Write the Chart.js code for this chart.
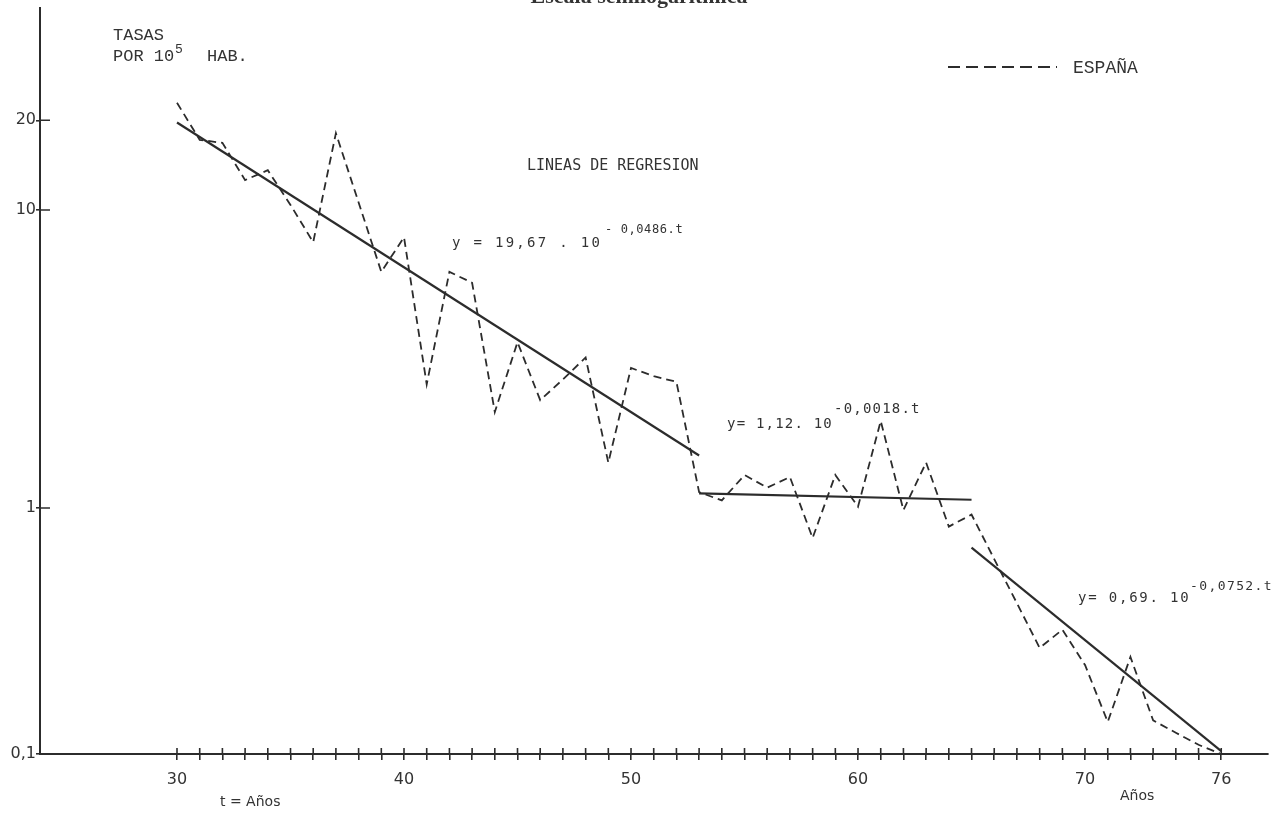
<!DOCTYPE html>
<html lang="es">
<head>
<meta charset="utf-8">
<title>Escala semilogarítmica</title>
<script src="https://cdn.jsdelivr.net/npm/chart.js@4.4.1/dist/chart.umd.min.js"></script>
<style>
  html, body { margin: 0; padding: 0; background: #ffffff; }
  #wrap { position: relative; width: 1278px; height: 813px; }
  canvas { display: block; }
</style>
</head>
<body>
<div id="wrap"><canvas id="c" width="1278" height="813"></canvas></div>
<script>
// Años (19xx) and tasas por 10^5 habitantes, España
const years = [30, 31, 32, 33, 34, 35, 36, 37, 38, 39,
               40, 41, 42, 43, 44, 45, 46, 47, 48, 49,
               50, 51, 52, 53, 54, 55, 56, 57, 58, 59,
               60, 61, 62, 63, 64, 65, 66, 67, 68, 69,
               70, 71, 72, 73, 74, 75, 76];
const espana = [22.9, 17.2, 16.8, 12.6, 13.6, 10.4, 7.8, 18.1, 10.6, 6.2,
                8.1, 2.6, 6.2, 5.7, 2.1, 3.6, 2.3, 2.7, 3.2, 1.42,
                2.95, 2.77, 2.65, 1.13, 1.06, 1.29, 1.17, 1.27, 0.755, 1.29,
                1.01, 1.96, 0.98, 1.42, 0.84, 0.94, 0.62, 0.41, 0.27, 0.32,
                0.23, 0.135, 0.248, 0.137, 0.122, 0.109, 0.1];

// Líneas de regresión y = a · 10^(-b·t), t counted from each line's first year
const regA = [19.67, 1.12, 0.69];
const regB = [0.0486, 0.0018, 0.0752];
const regFrom = [30, 53, 65];
const regTo = [53, 65, 76];

// Axis ticks
const xLabelYears = [30, 40, 50, 60, 70, 76];
const yTickValues = [0.1, 1, 10, 20];
const yTickLabels = ['0,1', '1', '10', '20'];

const ink = '#2c2c2c';

// Log axis whose lower decade is drawn shorter than the upper ones
class SplitLogScale extends Chart.LogarithmicScale {
  static id = 'splitLog';
  static defaults = { breakValue: 1, breakFraction: 0.33 };
  _splitDecimal(value) {
    const lo = Math.log10(this.min), hi = Math.log10(this.max);
    const b = Math.log10(this.options.breakValue), f = this.options.breakFraction;
    const v = Math.log10(value);
    return v <= b ? f * (v - lo) / (b - lo) : f + (1 - f) * (v - b) / (hi - b);
  }
  getPixelForValue(value) {
    if (value === undefined || value === 0) value = this.min;
    if (value === null || isNaN(value)) return NaN;
    return this.getPixelForDecimal(this._splitDecimal(value));
  }
  getValueForPixel(pixel) {
    const d = this.getDecimalForPixel(pixel);
    const lo = Math.log10(this.min), hi = Math.log10(this.max);
    const b = Math.log10(this.options.breakValue), f = this.options.breakFraction;
    const v = d <= f ? lo + (d / f) * (b - lo) : b + ((d - f) / (1 - f)) * (hi - b);
    return Math.pow(10, v);
  }
}
Chart.register(SplitLogScale);

const regressionSets = regFrom.map((from, k) => ({
  label: 'regresión ' + (k + 1),
  data: [from, regTo[k]].map(t => ({ x: t, y: regA[k] * Math.pow(10, -regB[k] * (t - from)) })),
  borderColor: ink,
  borderWidth: 2.2,
  pointRadius: 0,
  tension: 0
}));

function drawText(ctx, str, x, y, font, spacing) {
  ctx.font = font;
  if ('letterSpacing' in ctx) ctx.letterSpacing = (spacing || 0) + 'px';
  ctx.fillText(str, x, y);
  if ('letterSpacing' in ctx) ctx.letterSpacing = '0px';
}

const decor = {
  id: 'decor',
  afterDraw(chart) {
    const ctx = chart.ctx;
    const xs = chart.scales.x, ys = chart.scales.y;
    ctx.save();
    // tick marks crossing the axes
    ctx.strokeStyle = ink;
    ctx.lineWidth = 1.6;
    ctx.beginPath();
    xs.ticks.forEach(t => {
      const px = xs.getPixelForValue(t.value);
      ctx.moveTo(px, xs.top);
      ctx.lineTo(px, xs.top - 6);
    });
    ys.ticks.forEach(t => {
      if (t.value === yTickValues[0]) return;
      const py = ys.getPixelForValue(t.value);
      ctx.moveTo(ys.right, py);
      ctx.lineTo(ys.right + 10, py);
    });
    ctx.stroke();

    ctx.fillStyle = '#333333';
    ctx.textBaseline = 'alphabetic';

    // title
    ctx.textAlign = 'center';
    drawText(ctx, 'Escala semilogarítmica', 639, 3, 'bold 22px "Liberation Serif"');
    ctx.textAlign = 'left';

    // y-axis caption
    drawText(ctx, 'TASAS', 113, 40, '17px "Liberation Mono"');
    drawText(ctx, 'POR 10', 113, 61, '17px "Liberation Mono"');
    drawText(ctx, '5', 175, 53, '13px "Liberation Mono"');
    drawText(ctx, 'HAB.', 207, 61, '17px "Liberation Mono"');

    // legend
    const ds = chart.data.datasets[0];
    ctx.strokeStyle = ds.borderColor;
    ctx.lineWidth = 2;
    ctx.setLineDash([12, 6]);
    ctx.beginPath();
    ctx.moveTo(948, 67);
    ctx.lineTo(1057, 67);
    ctx.stroke();
    ctx.setLineDash([]);
    drawText(ctx, ds.label, 1073, 73, '18px "Liberation Mono"');

    // regression notes
    const dm = '"DejaVu Sans Mono"';
    drawText(ctx, 'LINEAS DE REGRESION', 527, 170, '15px ' + dm);
    drawText(ctx, 'y = 19,67 . 10', 452, 247, '14px ' + dm, 2.3);
    drawText(ctx, '- 0,0486.t', 605, 233, '12px ' + dm, 0.6);
    drawText(ctx, 'y= 1,12. 10', 727, 428, '14px ' + dm, 1.2);
    drawText(ctx, '-0,0018.t', 834, 413, '14px ' + dm, 1.2);
    drawText(ctx, 'y= 0,69. 10', 1078, 602, '14px ' + dm, 1.8);
    drawText(ctx, '-0,0752.t', 1190, 590, '13px ' + dm, 1.4);

    // x-axis captions
    drawText(ctx, 't = Años', 220, 806, '14px "DejaVu Sans"');
    drawText(ctx, 'Años', 1120, 800, '14px "DejaVu Sans"');
    ctx.restore();
  }
};

new Chart(document.getElementById('c'), {
  type: 'line',
  data: {
    datasets: [{
      label: 'ESPAÑA',
      data: years.map((yr, i) => ({ x: yr, y: espana[i] })),
      borderColor: ink,
      borderWidth: 1.8,
      borderDash: [8, 5],
      pointRadius: 0,
      tension: 0
    }].concat(regressionSets)
  },
  options: {
    responsive: false,
    animation: false,
    devicePixelRatio: 1,
    layout: { padding: { top: 8, right: 10, left: 0, bottom: 0 } },
    plugins: { legend: { display: false }, tooltip: { enabled: false }, title: { display: false } },
    scales: {
      x: {
        type: 'linear',
        min: 23.965,
        max: 78.06,
        afterBuildTicks: s => { s.ticks = years.map(v => ({ value: v })); },
        afterFit: s => { s.height = 59; },
        border: { display: true, color: ink, width: 2 },
        grid: { drawOnChartArea: false, drawTicks: true, tickLength: 6, color: ink, lineWidth: 1.6 },
        ticks: {
          autoSkip: false, maxRotation: 0, minRotation: 0, padding: 12,
          color: '#333333',
          font: { family: 'DejaVu Sans', size: 16, lineHeight: 1 },
          callback: v => xLabelYears.includes(v) ? String(v) : ''
        }
      },
      y: {
        type: 'splitLog',
        min: 0.1,
        max: 47.64,
        breakValue: 1,
        breakFraction: 0.3298,
        bounds: 'data',
        afterBuildTicks: s => { s.ticks = yTickValues.map(v => ({ value: v })); },
        afterFit: s => { s.width = 40; },
        border: { display: true, color: ink, width: 2 },
        grid: { drawOnChartArea: false, drawTicks: true, tickLength: 4, color: ink, lineWidth: 1.6 },
        ticks: {
          autoSkip: false, padding: 0,
          color: '#333333',
          font: { family: 'DejaVu Sans', size: 16, lineHeight: 1 },
          callback: v => yTickLabels[yTickValues.indexOf(v)]
        }
      }
    }
  },
  plugins: [decor]
});
</script>
</body>
</html>
